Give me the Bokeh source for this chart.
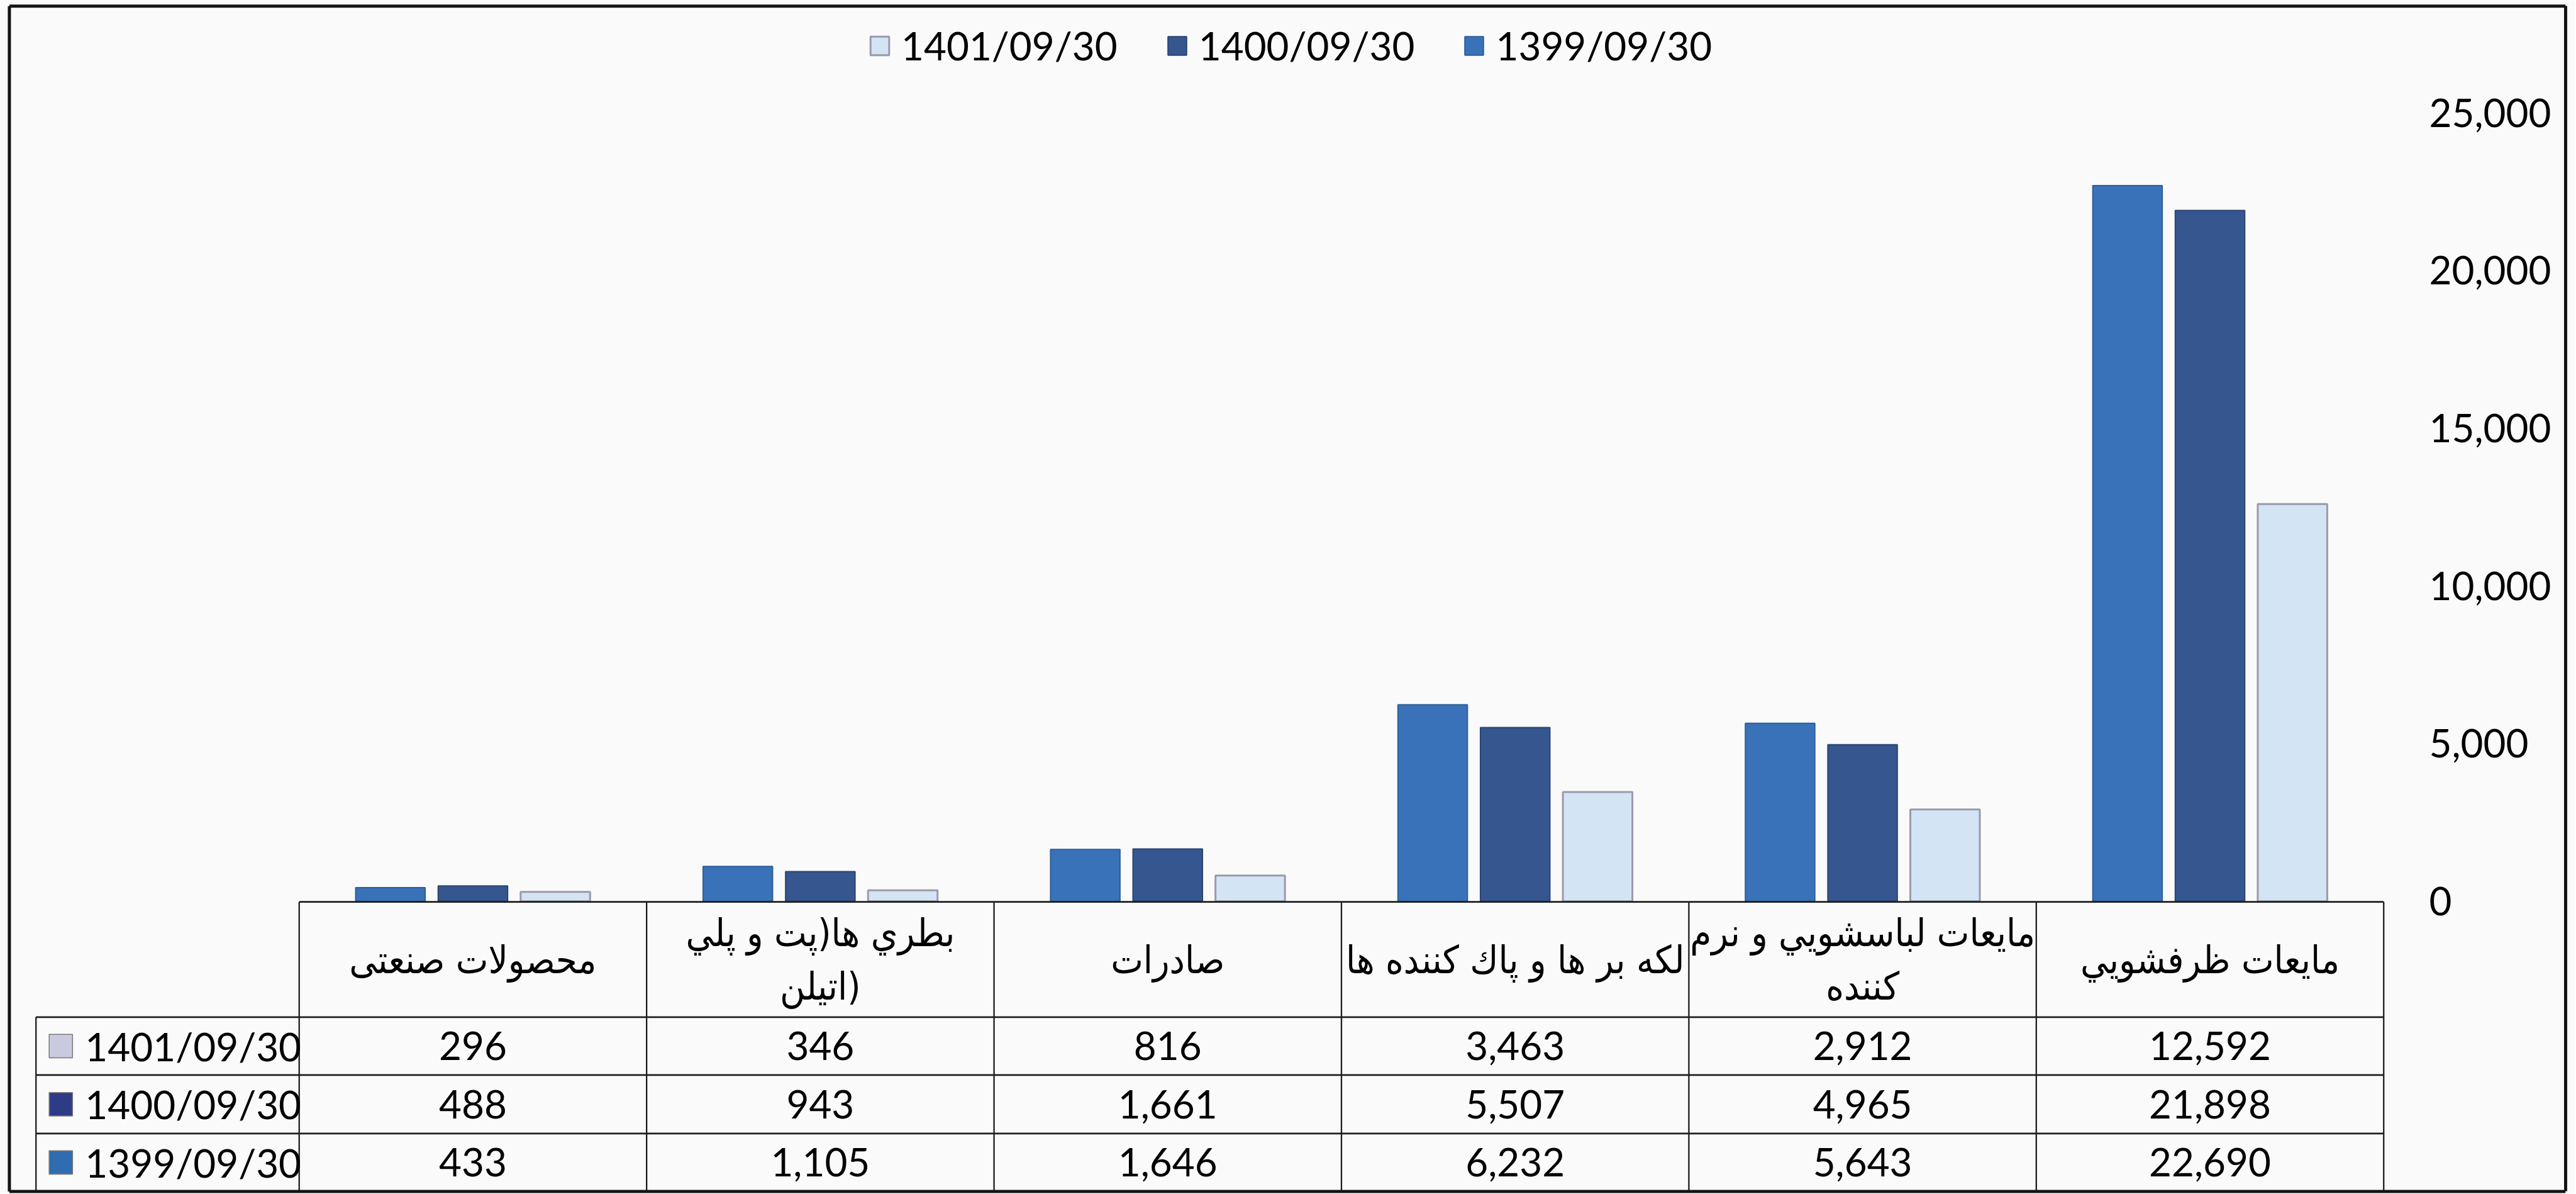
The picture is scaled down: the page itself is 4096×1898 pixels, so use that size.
from bokeh.plotting import figure
from bokeh.models import (Range1d, FixedTicker, NumeralTickFormatter, Legend,
                          LegendItem, ColumnDataSource)
from bokeh.transform import dodge
from bokeh.core.properties import value
from bokeh.embed import file_html
from bokeh.resources import INLINE

# ---------------- data ----------------
categories = [
    "محصولات صنعتی",
    "بطري ها(پت و پلي\nاتيلن)",
    "صادرات",
    "لكه بر ها و پاك كننده ها",
    "مايعات لباسشويي و نرم\nكننده",
    "مايعات ظرفشويي",
]
series_names = ["1399/09/30", "1400/09/30", "1401/09/30"]
v1399 = [433, 1105, 1646, 6232, 5643, 22690]
v1400 = [488, 943, 1661, 5507, 4965, 21898]
v1401 = [296, 346, 816, 3463, 2912, 12592]
y_ticks = [0, 5000, 10000, 15000, 20000, 25000]

# ---------------- styling ----------------
bar_fill = {"1399/09/30": "#3a72b9", "1400/09/30": "#35568e", "1401/09/30": "#d3e4f5"}
bar_line = {"1399/09/30": "#2e5f98", "1400/09/30": "#2b4674", "1401/09/30": "#9a9aac"}
swatch_fill = {"1399/09/30": "#2f6db0", "1400/09/30": "#2e3b86", "1401/09/30": "#c9c9df"}
LATIN = "Lato"
ARABIC = "DejaVu Sans Condensed"
BG = "#fafafa"
BORDER = "#141414"

# ---------------- geometry (reference px -> figure px) ----------------
W, H = 4094, 1897
S = 0.93
BL, BR, BT, BB = 15.5, 4386.5, 10.0, 2036.0   # outer border (ref px)
FRAME_W = round(BR * S)                       # frame ends at the right border
RIGHT_PANEL = W - FRAME_W
COL0, COLW = 511.0, 594.0          # first category column start / width (ref px)
ZERO_Y, TOP_Y, TOP_V = 1540.0, 192.0, 25000.0
PPU = (ZERO_Y - TOP_Y) / TOP_V      # ref px per value unit
LABEL_LEFT_REF = 4147.0

ref_right = FRAME_W / S
ref_bottom = H / S
x_lo = (0.0 - COL0) / COLW
x_hi = (ref_right - COL0) / COLW
y_hi = ZERO_Y / PPU
y_lo = (ZERO_Y - ref_bottom) / PPU

p = figure(width=W, height=H, output_backend="svg", toolbar_location=None,
           x_range=Range1d(x_lo, x_hi), y_range=Range1d(y_lo, y_hi),
           x_axis_location=None, y_axis_location="right",
           min_border=0, min_border_right=RIGHT_PANEL)
p.extra_x_ranges = {"rx": Range1d(0.0, ref_right)}
p.extra_y_ranges = {"ry": Range1d(-ref_bottom, 0.0)}
p.background_fill_color = BG
p.border_fill_color = BG
p.outline_line_color = None
p.xgrid.visible = False
p.ygrid.visible = False

# y axis (right); its axis line doubles as the right edge of the outer border
ax = p.yaxis[0]
ax.ticker = FixedTicker(ticks=y_ticks)
ax.formatter = NumeralTickFormatter(format="0,0")
ax.bounds = ((ZERO_Y - BB) / PPU, (ZERO_Y - BT) / PPU)
ax.axis_line_color = BORDER
ax.axis_line_width = 5
ax.major_tick_line_color = None
ax.minor_tick_line_color = None
ax.major_label_text_font = LATIN
ax.major_label_text_font_size = "62px"
ax.major_label_text_color = "#000000"
ax.major_label_standoff = round((LABEL_LEFT_REF - BR) * S)

# ---------------- bars ----------------
pos = [i + 0.5 for i in range(len(categories))]
src = ColumnDataSource(dict(pos=pos, v1399=v1399, v1400=v1400, v1401=v1401))
BW, OFF = 0.2, 0.2374
r1399 = p.vbar(x=dodge("pos", -OFF, range=p.x_range), top="v1399", bottom=0, width=BW,
               source=src, fill_color=bar_fill["1399/09/30"],
               line_color=bar_line["1399/09/30"], line_width=2)
r1400 = p.vbar(x=dodge("pos", 0.0, range=p.x_range), top="v1400", bottom=0, width=BW,
               source=src, fill_color=bar_fill["1400/09/30"],
               line_color=bar_line["1400/09/30"], line_width=2)
r1401 = p.vbar(x=dodge("pos", OFF, range=p.x_range), top="v1401", bottom=0, width=BW,
               source=src, fill_color=bar_fill["1401/09/30"],
               line_color=bar_line["1401/09/30"], line_width=3)

# ---------------- legend (top) ----------------
legend = Legend(items=[LegendItem(label="1401/09/30", renderers=[r1401]),
                       LegendItem(label="1400/09/30", renderers=[r1400]),
                       LegendItem(label="1399/09/30", renderers=[r1399])],
                orientation="horizontal", location=(1380, H - 109),
                glyph_width=37, glyph_height=37, label_standoff=16, spacing=76,
                padding=0, margin=0, border_line_color=None, background_fill_alpha=0,
                label_text_font=LATIN, label_text_font_size="62px",
                label_text_color="#000000")
p.add_layout(legend)

# ---------------- data table ----------------
HDR_TOP = 1541.0
ROW_TOPS = [1738.0, 1837.0, 1937.0]
TBL_BOT = 2036.0
TBL_LEFT_REF = 61.0
tbl_left = (TBL_LEFT_REF - COL0) / COLW
ncat = len(categories)
LINE = "#1e1e1e"

hx0 = [0.0] + [tbl_left] * 4
hx1 = [float(ncat)] * 5
hy = [-HDR_TOP] + [-y for y in ROW_TOPS] + [-TBL_BOT]
p.segment(x0=hx0, y0=hy, x1=hx1, y1=hy, y_range_name="ry",
          line_color=LINE, line_width=2.6)
vx = [float(i) for i in range(ncat + 1)] + [tbl_left]
vy0 = [-HDR_TOP] * (ncat + 1) + [-ROW_TOPS[0]]
vy1 = [-TBL_BOT] * (ncat + 2)
p.segment(x0=vx, y0=vy0, x1=vx, y1=vy1, y_range_name="ry",
          line_color=LINE, line_width=2.3)

hdr_mid = -(HDR_TOP + ROW_TOPS[0]) / 2
p.text(x=pos, y=[hdr_mid] * ncat, text=categories, y_range_name="ry",
       text_font=value(ARABIC), text_font_size="61px", text_color="#000000",
       text_align="center", text_baseline="middle", text_line_height=1.2)

row_series = ["1401/09/30", "1400/09/30", "1399/09/30"]
row_vals = [v1401, v1400, v1399]
row_bounds = ROW_TOPS + [TBL_BOT]
for k, (name, vals) in enumerate(zip(row_series, row_vals)):
    yc = -(row_bounds[k] + row_bounds[k + 1]) / 2
    p.text(x=pos, y=[yc] * ncat, text=[f"{v:,}" for v in vals], y_range_name="ry",
           text_font=value(LATIN), text_font_size="62px", text_color="#000000",
           text_align="center", text_baseline="middle")
    p.rect(x=[103.5], y=[yc], width=40, height=40, x_range_name="rx", y_range_name="ry",
           fill_color=swatch_fill[name], line_color="#7a7a7a", line_width=1.5)
    p.text(x=[145.0], y=[yc], text=[name], x_range_name="rx", y_range_name="ry",
           text_font=value(LATIN), text_font_size="62px", text_color="#000000",
           text_align="left", text_baseline="middle")

# ---------------- outer border (left, top, bottom) ----------------
p.segment(x0=[BL, BL, BL], y0=[-BT, -BT, -BB], x1=[BL, ref_right, ref_right],
          y1=[-BB, -BT, -BB], x_range_name="rx", y_range_name="ry",
          line_color=BORDER, line_width=5)

open("out.html", "w").write(file_html(p, INLINE))
